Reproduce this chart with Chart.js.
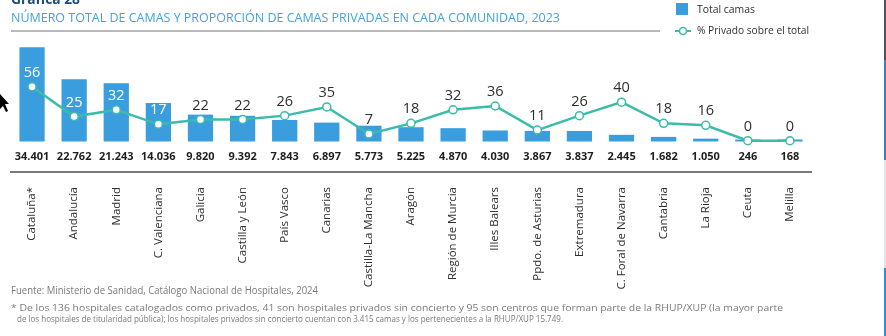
<!DOCTYPE html>
<html>
<head>
<meta charset="utf-8">
<script src="https://cdn.jsdelivr.net/npm/chart.js@4.4.1/dist/chart.umd.min.js"></script>
<style>
  html, body { margin: 0; padding: 0; background: #ffffff; }
  #wrap { position: relative; width: 886px; height: 336px; }
</style>
</head>
<body>
<div id="wrap"><canvas id="chart" width="886" height="336"></canvas></div>
<script>
// Comunidades autónomas
const categories = [
  'Cataluña*', 'Andalucía', 'Madrid', 'C. Valenciana', 'Galicia', 'Castilla y León',
  'País Vasco', 'Canarias', 'Castilla-La Mancha', 'Aragón', 'Región de Murcia',
  'Illes Balears', 'Ppdo. de Asturias', 'Extremadura', 'C. Foral de Navarra',
  'Cantabria', 'La Rioja', 'Ceuta', 'Melilla'
];
// Número total de camas
const totalCamas = [
  34401, 22762, 21243, 14036, 9820, 9392, 7843, 6897, 5773, 5225,
  4870, 4030, 3867, 3837, 2445, 1682, 1050, 246, 168
];
// % de camas privadas sobre el total
const pctPrivado = [
  56, 25, 32, 17, 22, 22, 26, 35, 7, 18,
  32, 36, 11, 26, 40, 18, 16, 0, 0
];

const BAR_COLOR = '#3a9ddd';
const LINE_COLOR = '#3bbcaa';
const TEXT_DARK = '#2e2e2e';
const FONT = '"Open Sans", "Noto Sans", sans-serif';

function fmtMiles(v) {
  return String(v).replace(/\B(?=(\d{3})+(?!\d))/g, '.');
}

// Dibuja un texto estrechándolo o ensanchándolo en horizontal hasta el ancho dado
function fitText(ctx, text, x, y, width) {
  const w = ctx.measureText(text).width;
  ctx.save();
  ctx.translate(x, y);
  ctx.scale(width / w, 1);
  ctx.fillText(text, 0, 0);
  ctx.restore();
}

// Etiquetas: valores de camas bajo cada barra y porcentajes sobre cada punto
const valueLabels = {
  id: 'valueLabels',
  afterDatasetsDraw(chart) {
    const ctx = chart.ctx;
    const barMeta = chart.getDatasetMeta(0);
    const lineMeta = chart.getDatasetMeta(1);
    const yCamas = chart.scales.yCamas;
    ctx.save();
    ctx.textAlign = 'center';
    ctx.textBaseline = 'middle';
    // totales
    ctx.font = '700 11px ' + FONT;
    ctx.fillStyle = '#1e1e1e';
    const base = yCamas.getPixelForValue(0);
    barMeta.data.forEach((bar, i) => {
      ctx.fillText(fmtMiles(totalCamas[i]), bar.x, base + 15);
    });
    // porcentajes
    ctx.font = '14.5px ' + FONT;
    lineMeta.data.forEach((pt, i) => {
      const ly = pt.y - 14;
      const barTop = barMeta.data[i].y;
      ctx.fillStyle = ly > barTop + 4 ? '#ffffff' : TEXT_DARK;
      ctx.fillText(String(pctPrivado[i]), pt.x, ly);
    });
    ctx.restore();
  }
};

// Título, leyenda y notas al pie
const decor = {
  id: 'decor',
  afterDraw(chart) {
    const ctx = chart.ctx;
    ctx.save();
    ctx.textBaseline = 'alphabetic';
    ctx.textAlign = 'left';
    // título
    ctx.fillStyle = '#1d4d78';
    ctx.font = '700 14px ' + FONT;
    fitText(ctx, 'Gráfica 28', 11, 3.5, 69);
    ctx.fillStyle = '#42a3dc';
    ctx.font = '12.5px ' + FONT;
    fitText(ctx, 'NÚMERO TOTAL DE CAMAS Y PROPORCIÓN DE CAMAS PRIVADAS EN CADA COMUNIDAD, 2023', 11, 22, 549);
    ctx.strokeStyle = '#a0a0a0';
    ctx.lineWidth = 1.5;
    ctx.beginPath();
    ctx.moveTo(11, 31);
    ctx.lineTo(660, 31);
    ctx.stroke();

    // leyenda
    ctx.fillStyle = BAR_COLOR;
    ctx.fillRect(676, 3, 12, 12);
    ctx.strokeStyle = LINE_COLOR;
    ctx.lineWidth = 2;
    ctx.beginPath();
    ctx.moveTo(675, 31);
    ctx.lineTo(691, 31);
    ctx.stroke();
    ctx.fillStyle = '#ffffff';
    ctx.lineWidth = 1.5;
    ctx.beginPath();
    ctx.arc(683, 31, 3.5, 0, Math.PI * 2);
    ctx.fill();
    ctx.stroke();
    ctx.fillStyle = TEXT_DARK;
    ctx.font = '11px ' + FONT;
    ctx.textBaseline = 'middle';
    fitText(ctx, 'Total camas', 697, 10, 58);
    fitText(ctx, '% Privado sobre el total', 697, 31, 112);

    // notas
    ctx.fillStyle = '#7a7a7a';
    ctx.font = '10px ' + FONT;
    fitText(ctx, 'Fuente: Ministerio de Sanidad, Catálogo Nacional de Hospitales, 2024', 11, 291, 307);
    ctx.font = '9px ' + FONT;
    fitText(ctx, '* De los 136 hospitales catalogados como privados, 41 son hospitales privados sin concierto y 95 son centros que forman parte de la RHUP/XUP (la mayor parte', 11, 308, 772);
    fitText(ctx, 'de los hospitales de titularidad pública); los hospitales privados sin concierto cuentan con 3.415 camas y los pertenecientes a la RHUP/XUP 15.749.', 17, 319, 546);

    // borde derecho
    ctx.lineWidth = 2;
    ctx.strokeStyle = '#4a5560';
    ctx.beginPath(); ctx.moveTo(885, 0); ctx.lineTo(885, 60); ctx.stroke();
    ctx.strokeStyle = '#3c7fbf';
    ctx.beginPath(); ctx.moveTo(885, 60); ctx.lineTo(885, 160); ctx.stroke();
    ctx.strokeStyle = '#e2e6ea';
    ctx.beginPath(); ctx.moveTo(885, 160); ctx.lineTo(885, 268); ctx.stroke();
    ctx.strokeStyle = '#2f8fd3';
    ctx.beginPath(); ctx.moveTo(885, 268); ctx.lineTo(885, 336); ctx.stroke();

    // puntero
    ctx.fillStyle = '#000000';
    ctx.beginPath();
    ctx.moveTo(0, 94);
    ctx.lineTo(9, 104);
    ctx.lineTo(5, 104);
    ctx.lineTo(8, 111);
    ctx.lineTo(6, 112);
    ctx.lineTo(3, 106);
    ctx.lineTo(0, 109);
    ctx.closePath();
    ctx.fill();
    ctx.restore();
  }
};

const ctx = document.getElementById('chart').getContext('2d');
new Chart(ctx, {
  data: {
    labels: categories,
    datasets: [
      {
        type: 'bar',
        label: 'Total camas',
        data: totalCamas,
        backgroundColor: BAR_COLOR,
        yAxisID: 'yCamas',
        categoryPercentage: 1,
        barPercentage: 0.6,
        minBarLength: 2,
        order: 2
      },
      {
        type: 'line',
        label: '% Privado sobre el total',
        data: pctPrivado,
        borderColor: LINE_COLOR,
        borderWidth: 2.5,
        pointRadius: 4,
        pointBackgroundColor: '#ffffff',
        pointBorderColor: LINE_COLOR,
        pointBorderWidth: 1.5,
        tension: 0,
        yAxisID: 'yPct',
        order: 1
      }
    ]
  },
  options: {
    responsive: false,
    animation: false,
    devicePixelRatio: 1,
    layout: { padding: { left: 11, right: 75, top: 40, bottom: 0 } },
    plugins: {
      legend: { display: false },
      tooltip: { enabled: false }
    },
    scales: {
      x: {
        offset: true,
        grid: { display: false, drawTicks: false },
        border: { display: true, color: '#7a7a7a', width: 2 },
        ticks: {
          autoSkip: false,
          maxRotation: 90,
          minRotation: 90,
          padding: 15,
          color: TEXT_DARK,
          font: { family: FONT, size: 11.5 }
        },
        afterFit(scale) { scale.height = 164; }
      },
      yCamas: {
        type: 'linear',
        display: false,
        min: -11138,
        max: 37066
      },
      yPct: {
        type: 'linear',
        display: false,
        min: -32.47,
        max: 104.46
      }
    }
  },
  plugins: [valueLabels, decor]
});
</script>
</body>
</html>
